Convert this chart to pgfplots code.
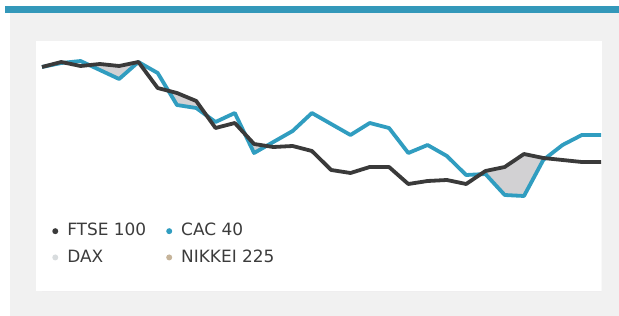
\documentclass[border=0pt]{standalone}
\usepackage{fontspec}
\setmainfont{DejaVu Sans}
\usepackage{pgfplots}
\pgfplotsset{compat=1.18}
\definecolor{bartop}{HTML}{3398BA}
\definecolor{panel}{HTML}{F1F1F1}
\definecolor{ftse}{HTML}{3A3A3A}
\definecolor{cac}{HTML}{309DC0}
\definecolor{dax}{HTML}{D8DCDE}
\definecolor{nikkei}{HTML}{C6B49A}
\definecolor{gapfill}{HTML}{D2D1D3}
\definecolor{txt}{HTML}{3C3C3C}
\pgfplotstableread{
i ftse cac
0 224 224
1 229 228
2 225 230
3 227 221
4 225 212
5 229 229
6 203 218
7 198 186
8 190 183
9 163 169
10 168 178
11 147 138
12 144 149
13 145 160
14 140 178
15 121 167
16 118 156
17 124 168
18 124 163
19 107 138
20 110 146
21 111 135
22 107 116
23 120 117
24 124 96
25 137 95
26 133 131
27 131 146
28 129 156
29 129 156
}\datatable
\begin{document}
\begin{tikzpicture}
\useasboundingbox (0bp,0bp) rectangle (619bp,316bp);
\fill[white] (0bp,0bp) rectangle (619bp,316bp);
\fill[panel] (10bp,0bp) rectangle (619bp,303bp);
\fill[bartop] (5bp,303bp) rectangle (619bp,310bp);
\fill[white] (36bp,25bp) rectangle (602bp,275bp);
\begin{axis}[
  at={(42bp,25bp)}, anchor=origin,
  scale only axis, width=559.1bp, height=250bp,
  xmin=0, xmax=29, ymin=0, ymax=250,
  hide axis, clip=false,
  legend columns=2,
  legend image code/.code={\fill[#1] (3bp,4.6bp) circle (3bp);},
  legend style={at={(0.018,0.272)}, anchor=north west, draw=none, fill=none,
    inner sep=0pt, font=\fontsize{17}{20}\selectfont\color{txt},
    column sep=9bp, row sep=12.2bp,
    /tikz/every even column/.append style={column sep=20bp},
    nodes={inner sep=0pt, anchor=base west}},
  legend cell align=left,
]
\addplot[draw=none, fill=gapfill, forget plot] table[x=i, y=ftse] {\datatable} \closedcycle;
\addplot[draw=none, fill=white, forget plot] table[x=i, y=cac] {\datatable} \closedcycle;
\addplot[cac, line width=3.8bp, line join=round, forget plot] table[x=i, y=cac] {\datatable};
\addplot[ftse, line width=3.8bp, line join=round, forget plot] table[x=i, y=ftse] {\datatable};
\addlegendimage{draw=none, fill=ftse}
\addlegendentry{FTSE 100}
\addlegendimage{draw=none, fill=cac}
\addlegendentry{CAC 40}
\addlegendimage{draw=none, fill=dax}
\addlegendentry{DAX}
\addlegendimage{draw=none, fill=nikkei}
\addlegendentry{NIKKEI 225}
\end{axis}
\end{tikzpicture}
\end{document}
